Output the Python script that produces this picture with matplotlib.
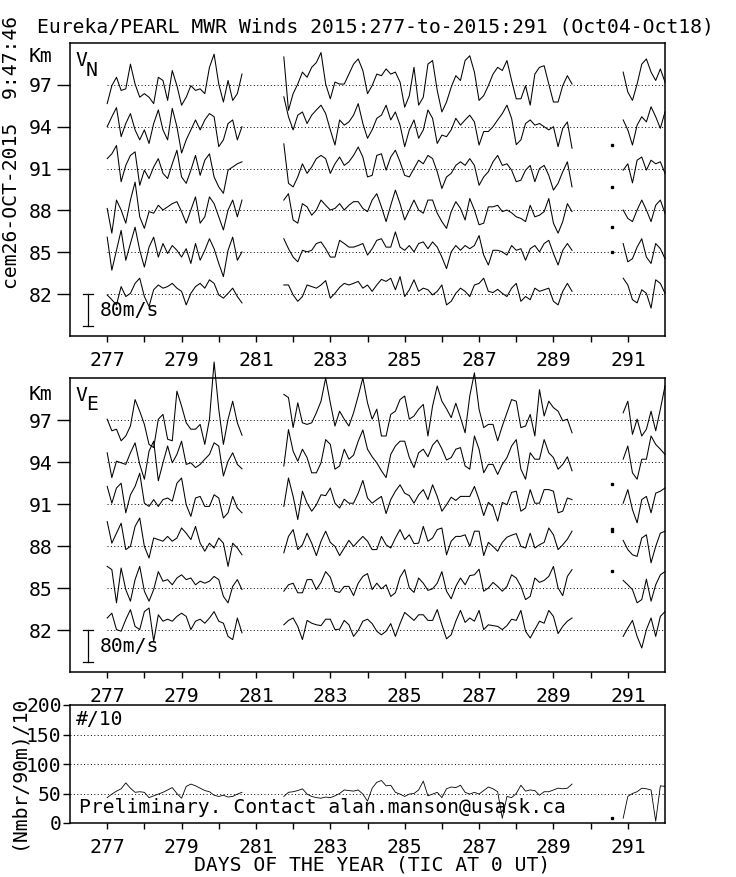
import numpy as np
import matplotlib
matplotlib.use("Agg")
import matplotlib.pyplot as plt

plt.rcParams['font.family'] = ['DejaVu Sans Mono']
plt.rcParams['font.size'] = 14.2

W, H = 736, 877

heights = [97, 94, 91, 88, 85, 82]
days = list(range(277, 292))

# sample times (day of year), 3-hourly, for the three data blocks
t_a = 277 + np.arange(30) / 8
t_b = 281.75 + np.arange(63) / 8
t_c = 290.875 + np.arange(10) / 8
t_dot = 290.57

# ---- meridional wind V_N (m/s) ----
vn97_a = [-47, -2, 19, -14, -10, 52, 2, -31, -22, -31, -47, 19, 11, -39, 36, -2, -51, -31, -2, -14,
          -10, -22, 44, 77, 2, -43, 11, -39, -22, 27]
vn94_a = [0, 25, 48, -25, 8, 33, -8, -33, -8, -42, 8, 42, -8, -33, 46, 0, -66, -33, -8, 17,
          -8, 17, 33, 25, -50, -33, 8, 17, -33, 0]
vn91_a = [25, 37, 58, -33, 8, 33, 42, -42, -4, -25, 4, 25, -12, -25, 12, 46, -21, -37, -4, 33,
          -17, 21, 37, -21, -46, -62, -4, 4, 12, 17]
vn88_a = [5, -57, 26, 1, -32, 26, 71, -16, -45, -3, -7, 13, 1, 9, 17, 22, -3, -32, 1, 34,
          -32, -16, 34, 17, -16, -49, 1, 26, -16, 26]
vn85_a = [38, -45, 5, 55, -20, 22, 63, 5, -37, 13, 38, -12, 22, -3, 17, 5, -12, 9, -28, 22,
          -20, 5, 34, 9, -28, -61, 5, 38, -20, 1]
vn82_a = [-2, -14, -27, 19, -6, 2, 27, 40, -6, -31, 11, 23, 15, 19, 27, 15, 7, -27, 2, 19,
          27, 15, 36, 27, -2, -10, 2, 15, -6, -22]

vn97_b = [70, -64, -22, 2, 32, 19, 44, 56, 81, 2, -35, 7, 2, 2, 27, 52, 65, 36, -22, -2,
          27, 23, 40, 27, 32, 7, -56, -27, 44, -51, -31, 52, 61, -14, -68, -43, -6, 23, 11, 61,
          73, 32, -39, -27, -2, 27, 44, 36, 61, 11, -35, -35, -2, -51, 27, 44, 48, 2, -43, -43,
          -2, 23, 2]
vn94_b = [75, 25, -8, 29, 37, 8, 29, 42, 54, 33, -8, -46, 17, 4, 12, 29, 58, 8, -29, -8,
          21, 29, 54, 17, 37, 4, -50, -8, 17, -29, -8, 42, 21, -42, -21, -25, -8, 21, 4, 17,
          29, 12, -46, -12, -12, 0, 17, 33, 54, 21, -45, -33, 8, 17, 4, 8, 0, -8, 0, -50,
          -4, 12, -54]
vn91_b = [62, -37, -46, -21, 12, -12, 4, 25, 33, 25, -12, 12, 29, 8, 17, 33, 54, 29, -21, -17,
          33, 37, -4, 29, 46, 17, -17, -21, 0, 21, 12, 33, 25, -8, -50, -21, -12, 8, 17, 8,
          25, 8, -42, -21, -8, 17, 33, 8, 12, -4, -33, -29, -4, 8, -33, 0, 8, -17, -54, -37,
          -8, 17, -46]
vn88_b = [26, 42, -24, -32, 17, 9, -12, 1, 26, 13, 1, 5, 17, 1, 13, 22, 22, 5, -3, 26,
          42, 9, -28, 13, 51, 17, -24, 1, 26, 1, -7, 26, 26, -7, -28, -45, -3, 22, 5, -24,
          30, 1, -36, -32, 9, 9, 13, -3, 1, -6, -16, -20, -28, 13, -16, -12, -3, 30, -32, -57,
          -28, 17, -3]
vn85_b = [34, 9, -12, -24, 5, 1, 5, 22, 26, 9, -12, -12, 30, 22, 13, 13, 17, 22, -7, 9,
          30, 34, 13, 13, 51, 13, 5, 17, 1, 22, 26, 9, 26, 13, -12, -41, 1, 17, 5, 17,
          9, 17, 42, -7, -32, 5, 5, 1, -7, 17, 5, 9, -20, 9, 17, 1, 22, 30, -3, -32,
          5, 22, 5]
vn82_b = [23, 23, -2, -18, -6, 23, 19, 15, 23, 34, -10, 2, 17, 27, 23, 27, 32, 15, 23, 7,
          23, 37, 32, 40, 11, 44, -6, 11, 36, 7, 15, 11, -2, 7, 23, -27, -18, 2, 15, 7,
          -6, 23, 27, 40, 7, 4, 12, 2, -6, 15, 27, -18, -6, -14, 15, 7, 11, 15, -18, -27,
          7, 27, 7]

vn97_c = [32, -18, -39, 2, 52, 65, 32, 11, 40, 7]
vn94_c = [17, -8, -46, 4, 25, 12, 50, 25, -4, 37]
vn91_c = [-4, 12, -36, 21, 29, -4, 21, 12, 17, -12]
vn88_c = [1, -20, -28, 1, 26, 1, -28, 13, 26, -7]
vn85_c = [22, -24, -16, 13, 34, -12, -28, 22, 9, -16]
vn82_c = [40, 23, -14, -22, 11, 2, -35, 36, 27, 2]

vn_dots = [[], [-47], [-46], [-41], [0], []]

# ---- zonal wind V_E (m/s) ----
ve97_a = [2, -27, -23, -52, -40, -15, 51, 22, -11, -61, -69, 2, 14, -48, -52, 72, 35, -7, -23, -23,
          -11, -61, 2, 145, 27, -61, 2, 47, -7, -38]
ve94_a = [23, -39, 2, -2, -6, 23, 48, -6, -43, 27, 52, -47, -2, 40, -2, 19, 52, -6, -2, -14,
          -6, 7, 19, 48, 40, -35, 2, 23, -6, -17]
ve91_a = [44, 2, 40, 52, -22, 23, 44, 77, 2, -6, 11, -6, 11, 15, 7, 52, 65, -2, -31, 15,
          19, -6, -6, 23, 15, -35, -22, 19, -10, -22]
ve88_a = [61, 7, 32, 57, -9, -1, 49, 70, -1, -30, 20, 16, 12, 24, 12, 20, 45, 32, 16, 49,
          7, -13, 7, -5, 20, 7, -51, 7, -5, -22]
ve85_a = [54, 46, -37, 50, -4, -33, 21, 54, -8, -33, -4, 41, 17, 21, 8, 25, 33, 21, 25, 8,
          17, 12, 17, 29, 21, -21, -37, 4, 21, -4]
ve82_a = [30, 42, 1, -3, 26, 51, 9, 1, 46, 55, -28, 38, 22, 27, 22, 34, 42, 34, 1, 22,
          27, 17, 30, 46, 22, 17, -16, -24, 30, -7]

ve97_b = [64, 56, -19, 43, -7, -11, -7, 18, 47, 105, 43, -15, 22, 2, -15, 18, 60, 105, 43, 2,
          27, -40, -40, 14, 22, 51, 60, 2, 10, 27, 39, -40, 35, 85, 47, 28, 6, 42, 6, -32,
          60, 118, 27, -19, -11, -11, -52, -15, 18, 51, 47, -19, -15, 14, -40, 76, 10, 47, 31, 22,
          -2, 2, -32]
ve94_b = [-10, 81, 27, 2, 32, 11, -27, -27, -2, 56, 44, -18, -10, 32, 7, 17, 52, 80, 32, 13,
          -2, -22, -39, 19, 40, 52, 52, 11, -14, 23, 32, 13, 42, 55, 33, 5, 11, 32, 36, -10,
          -18, 65, 32, -27, -6, -6, -31, -6, 11, 40, 56, -18, -43, 23, 7, 7, 56, 23, 11, -18,
          -6, 13, -22]
ve91_b = [-6, 65, 19, -39, 32, 2, -18, -2, 23, 21, 40, 2, -10, 12, 2, 2, 27, 59, 15, 2,
          11, 19, -24, 11, 32, 48, 27, 21, 2, 23, 36, 11, 48, 19, -18, -2, 17, 9, 19, 19,
          19, 44, 11, -29, 4, -6, -43, 4, -2, 29, 32, -18, -10, 36, 2, 2, 36, 36, 32, -22,
          -18, 15, 11]
ve88_b = [-17, 24, 41, -9, 3, 32, 7, -24, 12, 37, 9, -1, -24, -5, 14, -1, 12, 24, 12, -9,
          -9, 24, 3, -5, 20, 41, 16, 28, 6, 7, 49, 12, 20, 41, 45, -22, 12, 24, 24, 28,
          -1, 37, 37, -24, 9, -1, -13, 9, 22, 27, 31, -1, -5, 32, -5, 3, 9, 45, 28, -9,
          3, 17, 37]
ve85_b = [-8, 8, 12, -12, -12, 21, 21, -4, 14, 41, 27, -8, -11, 4, 4, -19, 12, 29, 36, -4,
          12, -2, 8, -21, -12, 27, 46, 0, -11, 25, 12, -6, -2, 12, 41, -8, -27, 4, 25, 8,
          31, 33, 47, -8, 0, 14, 4, -8, 4, 33, 25, 4, -29, -21, 25, 14, 19, 29, 54, 0,
          -19, 29, 46]
ve82_b = [13, 24, 30, 9, -24, 24, 17, 13, 11, 27, 27, 1, 2, 24, 13, -16, -1, 22, 27, 16,
          -3, -12, -3, 16, -16, 16, 44, 34, 24, 38, 38, 24, 24, 51, 13, -22, -12, 22, 49, 19,
          30, 22, 49, 1, 13, 11, 9, 1, 11, 27, 24, 49, -3, -20, 1, 22, 17, 49, 34, -9,
          9, 22, 30]

ve97_c = [18, 47, -36, 2, -40, -23, 22, -27, 27, 85]
ve94_c = [7, 40, -27, -43, 7, 7, 65, 44, 32, 19]
ve91_c = [2, 36, -14, -47, 11, 19, -22, 27, 32, 40]
ve88_c = [14, -9, -22, -26, 20, 28, -42, -1, 32, 37]
ve85_c = [19, 8, -4, -37, -29, 22, -33, 8, 33, 41]
ve82_c = [-16, 5, 24, -16, -45, 1, 30, -16, 34, 46]

ve_dots = [[], [-55], [-62, -68], [-63], [], []]

# ---- number of echoes, (Nmbr/90m)/10 ----
cnt_a = [43, 49, 54, 58, 68, 59, 52, 53, 52, 43, 46, 49, 52, 56, 60, 50, 42, 62, 66, 63,
         59, 55, 53, 47, 45, 47, 44, 45, 49, 52]
cnt_b = [45, 52, 53, 55, 58, 49, 45, 43, 42, 44, 43, 46, 50, 56, 55, 54, 56, 49, 37, 59,
         69, 72, 63, 64, 52, 49, 45, 49, 50, 56, 71, 46, 49, 52, 43, 58, 61, 60, 64, 52,
         49, 52, 49, 55, 61, 58, 53, 8, 45, 43, 50, 64, 54, 56, 55, 47, 53, 53, 56, 59,
         58, 59, 66]
cnt_c = [8, 45, 50, 53, 59, 58, 56, 3, 63, 62]
cnt_dot = [8]

MS_PER_KM = 35.0   # 80 m/s scale bar is ~2.3 km tall

fig = plt.figure(figsize=(W / 100, H / 100), dpi=100)


def px_axes(left, top, right, bottom):
    return fig.add_axes([left / W, 1 - bottom / H, (right - left) / W, (bottom - top) / H])


def style_axes(ax, ylen):
    for s in ax.spines.values():
        s.set_linewidth(1.1)
    ax.set_xlim(276, 292)
    ax.set_xticks(days)
    ax.set_xticklabels([str(d) if d % 2 else '' for d in days])
    ax.tick_params(axis='x', direction='out', length=4, width=1, pad=7)
    ax.tick_params(axis='y', direction='out', length=ylen, width=1, pad=3)


def seg(a, b, c):
    return np.concatenate([a, [np.nan], b, [np.nan], c])


def wind_panel(ax, segs_a, segs_b, segs_c, dots, comp, ytxt):
    t = seg(t_a, t_b, t_c)
    for h in heights:
        ax.plot([277, 292], [h, h], color='k', lw=0.7, ls=(0, (1, 2.5)))
    for h, a, b, c, d in zip(heights, segs_a, segs_b, segs_c, dots):
        v = seg(a, b, c)
        ax.plot(t, h + v / MS_PER_KM, color='k', lw=0.75, clip_on=False)
        for val in d:
            ax.plot(t_dot, h + val / MS_PER_KM, 's', color='k', ms=1.4)
    # 80 m/s scale bar
    x0 = 276.49
    y1 = 82 - 80 / MS_PER_KM
    ax.plot([x0, x0], [82, y1], color='k', lw=0.9)
    ax.plot([x0 - 0.14, x0 + 0.14], [82, 82], color='k', lw=0.9)
    ax.plot([x0 - 0.14, x0 + 0.14], [y1, y1], color='k', lw=0.9)
    ax.text(276.8, 82 - 1.2, '80m/s', ha='left', va='center')
    ax.set_ylim(79, 100)
    ax.set_yticks(heights)
    ax.set_yticklabels([str(h) for h in heights])
    style_axes(ax, 9.5)
    fig.text(81 / W, 1 - ytxt / H, 'V', ha='center', va='center')
    fig.text(92 / W, 1 - (ytxt + 9) / H, comp, ha='center', va='center')


ax1 = px_axes(70, 43, 665, 336)
wind_panel(ax1, [vn97_a, vn94_a, vn91_a, vn88_a, vn85_a, vn82_a],
           [vn97_b, vn94_b, vn91_b, vn88_b, vn85_b, vn82_b],
           [vn97_c, vn94_c, vn91_c, vn88_c, vn85_c, vn82_c], vn_dots, 'N', 61)

ax2 = px_axes(70, 378, 665, 672)
wind_panel(ax2, [ve97_a, ve94_a, ve91_a, ve88_a, ve85_a, ve82_a],
           [ve97_b, ve94_b, ve91_b, ve88_b, ve85_b, ve82_b],
           [ve97_c, ve94_c, ve91_c, ve88_c, ve85_c, ve82_c], ve_dots, 'E', 396)

ax3 = px_axes(70, 705, 665, 823)
for g in [50, 100, 150]:
    ax3.axhline(g, color='k', lw=0.7, ls=(0, (1, 2.5)))
ax3.plot(seg(t_a, t_b, t_c), seg(cnt_a, cnt_b, cnt_c), color='k', lw=0.6)
ax3.plot([t_dot], cnt_dot, 's', color='k', ms=1.4)
ax3.set_ylim(0, 200)
ax3.set_yticks([0, 50, 100, 150, 200])
style_axes(ax3, 5)
ax3.tick_params(axis='y', pad=1)
ax3.text(0.01, 0.88, '#/10', transform=ax3.transAxes, ha='left', va='center')
ax3.text(0.015, 0.13, 'Preliminary. Contact alan.manson@usask.ca', transform=ax3.transAxes,
         ha='left', va='center')

fig.text(375 / W, 1 - 27 / H, 'Eureka/PEARL MWR Winds 2015:277-to-2015:291 (Oct04-Oct18)',
         ha='center', va='center')
fig.text(12 / W, 1 - 152 / H, 'cem26-OCT-2015  9:47:46', rotation=90, ha='center', va='center')
fig.text(41 / W, 1 - 57 / H, 'Km', ha='center', va='center')
fig.text(41 / W, 1 - 395 / H, 'Km', ha='center', va='center')
fig.text(18 / W, 1 - 772 / H, '(Nmbr/90m)/10', rotation=90, ha='center', va='center')
fig.text(372 / W, 1 - 865 / H, 'DAYS OF THE YEAR (TIC AT 0 UT)', ha='center', va='center')

fig.savefig('out.png', dpi=100)
